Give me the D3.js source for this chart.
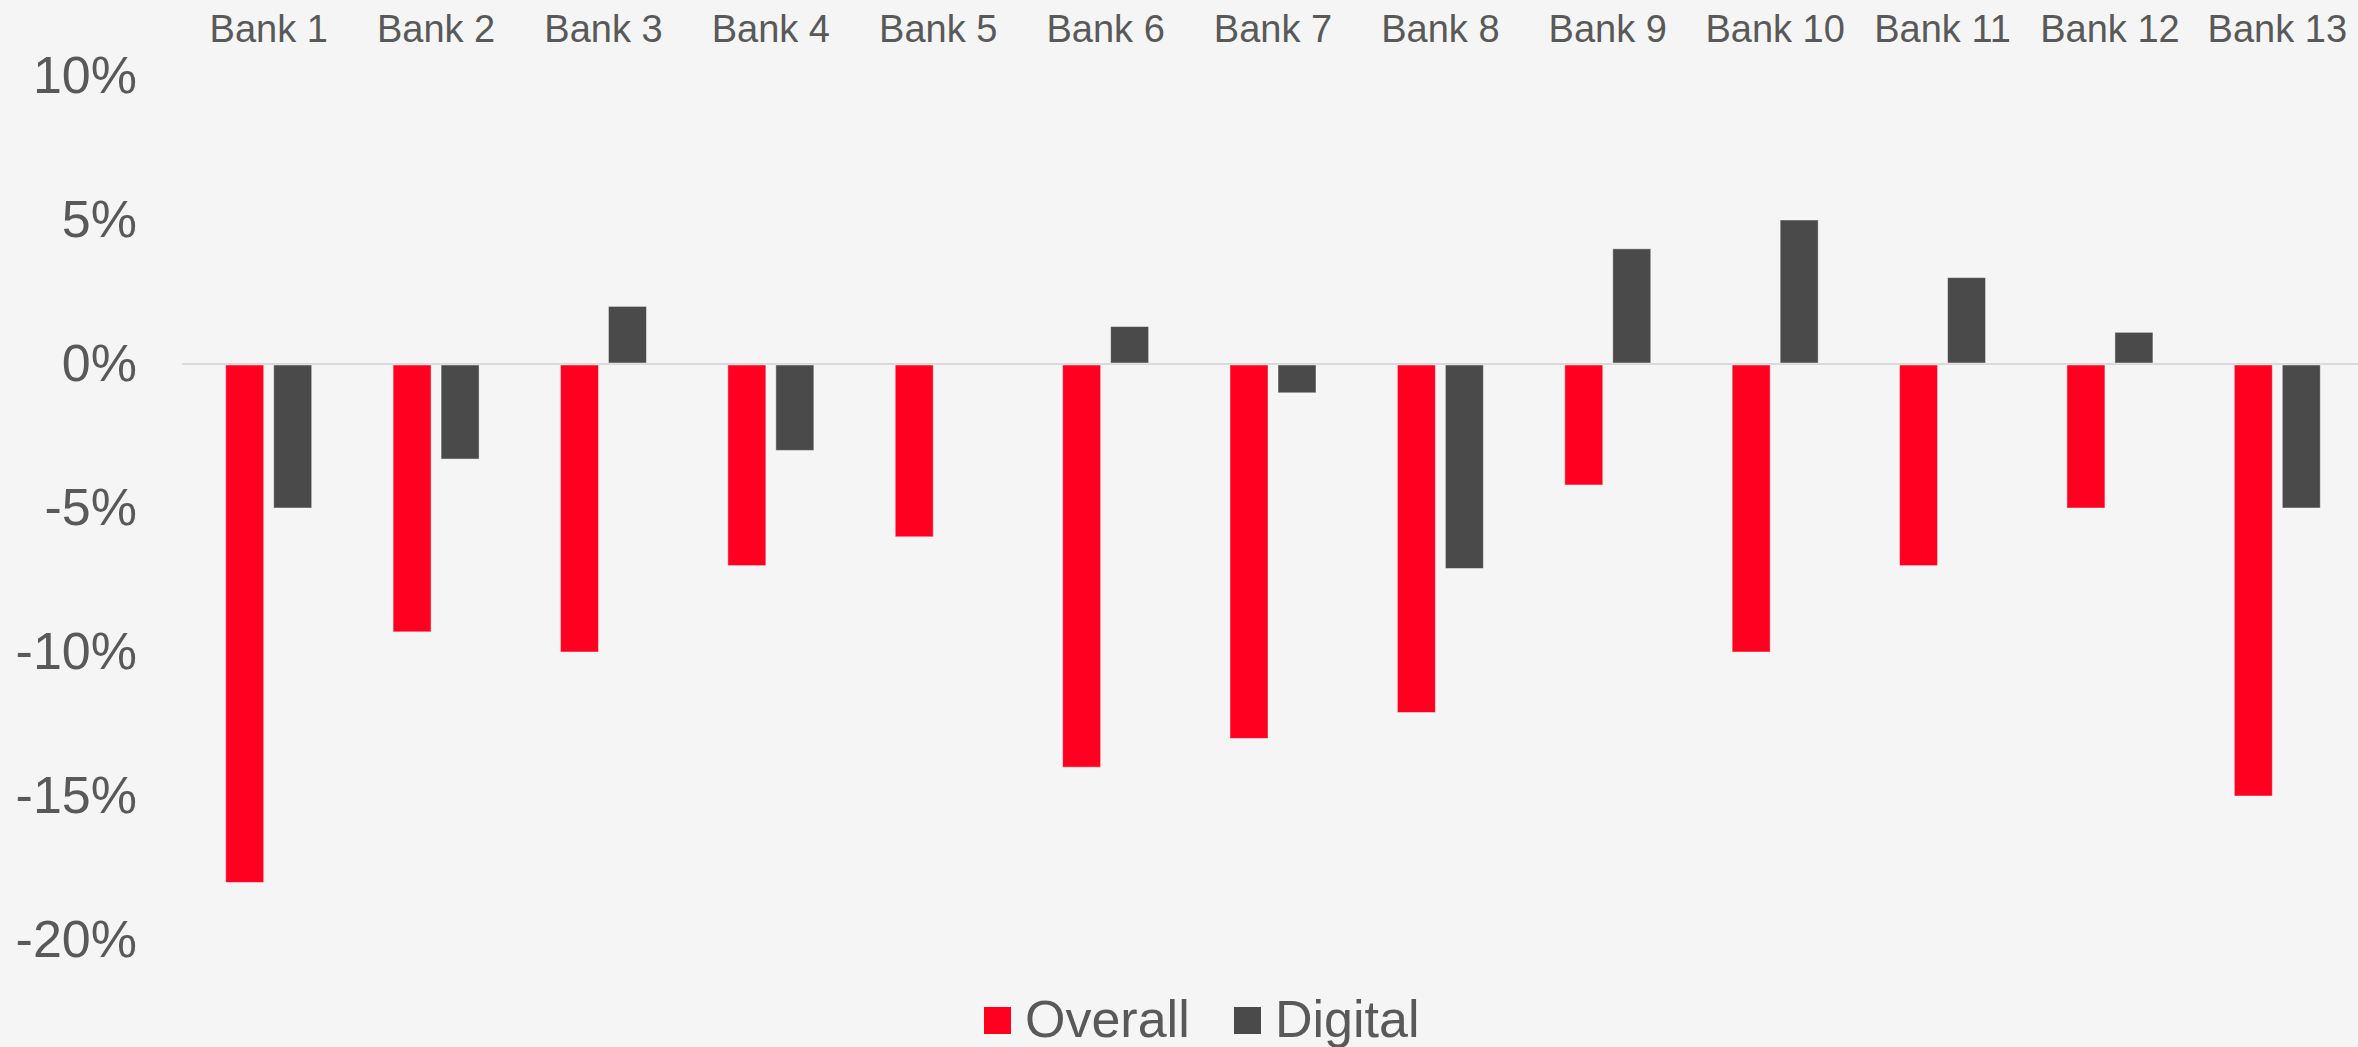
<!doctype html>
<html>
  <head>
    <script src="https://cdnjs.cloudflare.com/ajax/libs/d3/7.8.5/d3.min.js"></script>
    <style>
      body { margin: 0; background: #f5f5f5; }
      svg { display: block; font-family: "Liberation Sans", Arial, sans-serif; }
    </style>
  </head>
  <body>
    <svg width="2358" height="1047"></svg>

    <script>
        // values, in percent
        var banks = ["Bank 1", "Bank 2", "Bank 3", "Bank 4", "Bank 5", "Bank 6", "Bank 7",
                     "Bank 8", "Bank 9", "Bank 10", "Bank 11", "Bank 12", "Bank 13"];
        var overall = [-18, -9.3, -10, -7, -6, -14, -13, -12.1, -4.2, -10, -7, -5, -15];
        var digital = [-5, -3.3, 2, -3, 0, 1.3, -1, -7.1, 4, 5, 3, 1.1, -5];
        var seriesNames = ["Overall", "Digital"];
        var seriesColors = ["#ff0021", "#4a4a4a"];
        var yTicks = [10, 5, 0, -5, -10, -15, -20];

        var svg = d3.select("svg");
        var textColor = "#595959";

        var x = d3.scaleBand().domain(banks).range([185, 2361]);
        var y = d3.scaleLinear().domain([-20, 10]).range([940, 76]);

        var bw = x.bandwidth();
        var x1 = d3.scaleBand().domain(seriesNames)
            .range([bw / 2 - 43, bw / 2 + 43])
            .paddingInner(0.2083);

        var rows = banks.map((b, i) => ({bank: b, values: [overall[i], digital[i]]}));

        // zero line
        svg.append("line")
            .attr("x1", x.range()[0] - 3).attr("x2", 2358)
            .attr("y1", y(0)).attr("y2", y(0))
            .attr("stroke", "#d9d9d9")
            .attr("stroke-width", 2);

        // bars
        var groups = svg.selectAll("g.bank")
            .data(rows)
            .enter()
            .append("g")
            .attr("class", "bank")
            .attr("transform", d => "translate(" + x(d.bank) + ",0)");

        groups.selectAll("rect")
            .data(d => d.values.map((v, k) => ({key: seriesNames[k], value: v, color: seriesColors[k]})))
            .enter()
            .filter(d => d.value !== 0)
            .append("rect")
            .attr("x", d => x1(d.key))
            .attr("width", x1.bandwidth())
            .attr("y", d => d.value > 0 ? y(d.value) : y(0) + 1)
            .attr("height", d => d.value > 0 ? y(0) - 1 - y(d.value) : y(d.value) - y(0) - 1)
            .attr("fill", d => d.color)
            .attr("stroke", "rgba(255,255,255,0.45)")
            .attr("stroke-width", 1);

        // y axis
        var yAxis = svg.append("g")
            .attr("transform", "translate(137,0)")
            .call(d3.axisLeft(y).tickValues(yTicks).tickSize(0).tickPadding(0)
                .tickFormat(d => d + "%"));
        yAxis.select(".domain").remove();
        yAxis.selectAll("text")
            .attr("fill", textColor)
            .style("font-size", "52px")
            .style("font-family", "'Liberation Sans', Arial, sans-serif");

        // bank labels on top
        var xAxis = svg.append("g")
            .attr("transform", "translate(0,42)")
            .call(d3.axisTop(x).tickSize(0).tickPadding(0));
        xAxis.select(".domain").remove();
        xAxis.selectAll("text")
            .attr("fill", textColor)
            .style("font-size", "38px")
            .style("font-family", "'Liberation Sans', Arial, sans-serif");

        // legend
        var legendX = [984, 1234];
        var legend = svg.selectAll("g.legend")
            .data(seriesNames)
            .enter()
            .append("g")
            .attr("class", "legend")
            .attr("transform", (d, i) => "translate(" + legendX[i] + ",0)");

        legend.append("rect")
            .attr("x", 0).attr("y", 1007)
            .attr("width", 27).attr("height", 27)
            .attr("fill", (d, i) => seriesColors[i]);

        legend.append("text")
            .attr("x", 41).attr("y", 1037)
            .attr("fill", textColor)
            .style("font-size", "52px")
            .text(d => d);
    </script>
  </body>
</html>
